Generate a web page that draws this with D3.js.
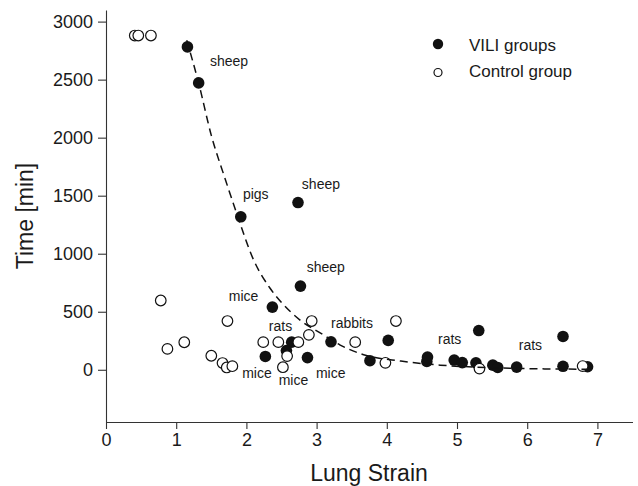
<!DOCTYPE html>
<html>
<head>
<meta charset="utf-8">
<script src="https://cdn.jsdelivr.net/npm/d3@7"></script>
<style>
  body { margin: 0; background: #fff; }
  text { font-family: "Liberation Sans", Arial, sans-serif; fill: #1a1a1a; }
</style>
</head>
<body>
<div id="chart"></div>
<script>
const FRAME_WIDTH = 638;
const FRAME_HEIGHT = 486;

// strain / time pairs
const viliStrain = [1.16, 1.32, 1.92, 2.735, 2.77, 2.37, 2.645, 2.27, 2.57, 2.87, 3.205, 3.76, 4.02,
                    4.57, 4.58, 4.96, 5.075, 5.27, 5.31, 5.51, 5.58, 5.85, 6.51, 6.51, 6.86];
const viliTime   = [2782, 2472, 1318, 1441, 721, 540, 238, 115, 166, 105, 241, 78, 253,
                    72, 109, 84, 62, 60, 338, 40, 20, 23, 287, 30, 26];

const controlStrain = [0.41, 0.46, 0.64, 0.78, 0.875, 1.115, 1.50, 1.66, 1.72, 1.80, 1.73, 2.24,
                       2.455, 2.74, 2.58, 2.52, 2.89, 2.93, 3.55, 3.98, 4.13, 5.32, 6.79];
const controlTime   = [2880, 2880, 2880, 597, 180, 237, 121, 58, 20, 31, 420, 238,
                       238, 238, 118, 22, 301, 420, 238, 60, 420, 10, 32];

// dashed trend line
const fitStrain = [1.15, 1.32, 1.50, 1.70, 1.86, 2.10, 2.34, 2.50, 2.76, 3.10, 3.33, 3.67, 4.20, 4.76, 5.50, 6.00, 6.85];
const fitTime   = [2840, 2470, 2020, 1640, 1350, 950, 700, 580, 430, 300, 215, 130, 75, 40, 18, 10, 5];

// species labels: text, strain, time (left/baseline anchor)
const labelText   = ["sheep", "pigs", "sheep", "sheep", "mice", "rats", "rabbits", "mice", "mice", "mice", "rats", "rats"];
const labelStrain = [1.48, 1.95, 2.79, 2.86, 1.75, 2.32, 3.205, 1.94, 2.46, 2.99, 4.73, 5.88];
const labelTime   = [2618, 1473, 1559, 844, 594, 336, 362, -69, -129, -69, 224, 172];

const xTicks = [0, 1, 2, 3, 4, 5, 6, 7];
const yTicks = [0, 500, 1000, 1500, 2000, 2500, 3000];

const svg = d3.select("#chart")
  .append("svg")
    .attr("width", FRAME_WIDTH)
    .attr("height", FRAME_HEIGHT);

const xScale = d3.scaleLinear().domain([0, 7.5]).range([106, 632.5]);
const yScale = d3.scaleLinear().domain([-450, 3100]).range([422, 10]);

// axes
const xAxis = svg.append("g")
  .attr("transform", "translate(0," + yScale(-450) + ")")
  .call(d3.axisBottom(xScale).tickValues(xTicks).tickFormat(d3.format("d")).tickSize(7).tickSizeOuter(0).tickPadding(4));

const yAxis = svg.append("g")
  .attr("transform", "translate(" + xScale(0) + ",0)")
  .call(d3.axisLeft(yScale).tickValues(yTicks).tickFormat(d3.format("d")).tickSize(8).tickSizeOuter(0).tickPadding(5));

[xAxis, yAxis].forEach(function(ax) {
  ax.selectAll("path, line").attr("stroke", "#333").attr("stroke-width", 1.1);
  ax.selectAll("text").attr("font-size", 18).attr("fill", "#1a1a1a")
    .attr("font-family", "'Liberation Sans', Arial, sans-serif");
});

svg.append("text")
  .attr("x", 369).attr("y", 481)
  .attr("text-anchor", "middle")
  .attr("font-size", 23)
  .text("Lung Strain");

svg.append("text")
  .attr("transform", "translate(33,216) rotate(-90)")
  .attr("text-anchor", "middle")
  .attr("font-size", 23)
  .text("Time [min]");

// points
const vili = viliStrain.map(function(s, i) { return {x: s, y: viliTime[i]}; });
const control = controlStrain.map(function(s, i) { return {x: s, y: controlTime[i]}; });

svg.selectAll(".vili")
  .data(vili)
  .enter()
  .append("circle")
    .attr("class", "vili")
    .attr("cx", function(d) { return xScale(d.x); })
    .attr("cy", function(d) { return yScale(d.y); })
    .attr("r", 5.8)
    .attr("fill", "#111");

svg.selectAll(".control")
  .data(control)
  .enter()
  .append("circle")
    .attr("class", "control")
    .attr("cx", function(d) { return xScale(d.x); })
    .attr("cy", function(d) { return yScale(d.y); })
    .attr("r", 5.3)
    .attr("fill", "#fff")
    .attr("stroke", "#111")
    .attr("stroke-width", 1.2);

// trend line
const fit = fitStrain.map(function(s, i) { return {x: s, y: fitTime[i]}; });
const line = d3.line()
  .x(function(d) { return xScale(d.x); })
  .y(function(d) { return yScale(d.y); })
  .curve(d3.curveMonotoneX);

svg.append("path")
  .datum(fit)
  .attr("d", line)
  .attr("fill", "none")
  .attr("stroke", "#111")
  .attr("stroke-width", 1.5)
  .attr("stroke-dasharray", "8,5");

// species labels
svg.selectAll(".label")
  .data(labelText)
  .enter()
  .append("text")
    .attr("class", "label")
    .attr("x", function(d, i) { return xScale(labelStrain[i]); })
    .attr("y", function(d, i) { return yScale(labelTime[i]); })
    .attr("font-size", 14)
    .text(function(d) { return d; });

// legend
const legend = svg.append("g");
legend.append("circle").attr("cx", 438).attr("cy", 44).attr("r", 5.2).attr("fill", "#111");
legend.append("circle").attr("cx", 438).attr("cy", 72.5).attr("r", 4)
  .attr("fill", "#fff").attr("stroke", "#111").attr("stroke-width", 1.2);
legend.append("text").attr("x", 469).attr("y", 51).attr("font-size", 17).text("VILI groups");
legend.append("text").attr("x", 469).attr("y", 77).attr("font-size", 17).text("Control group");
</script>
</body>
</html>
